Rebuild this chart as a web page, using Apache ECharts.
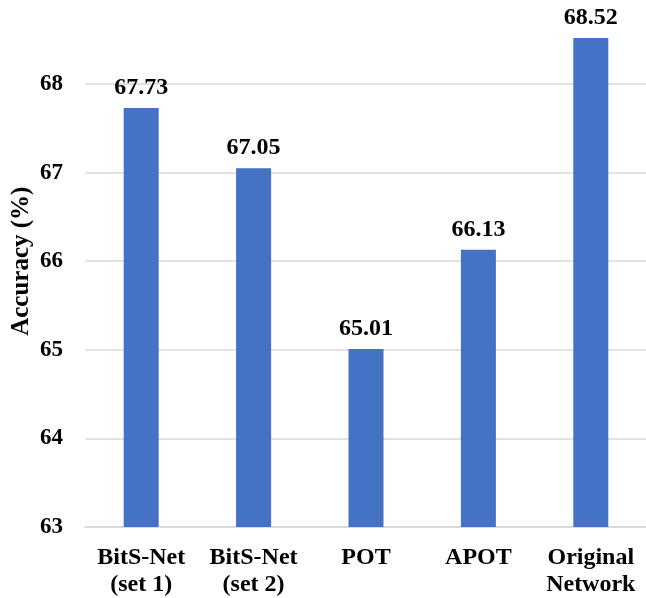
<!DOCTYPE html>
<html lang="en">
<head>
    <meta charset="UTF-8">
    <title>Accuracy</title>
    <script src="https://cdn.jsdelivr.net/npm/echarts@6/dist/echarts.min.js"></script>
</head>
<body style="margin:0">
    <div id="main" style="width: 646px;height:598px;"></div>
    <script type="text/javascript">
        // data
        var categories = ['BitS-Net\n(set 1)', 'BitS-Net\n(set 2)', 'POT', 'APOT', 'Original\nNetwork'];
        var accuracy = [67.73, 67.05, 65.01, 66.13, 68.52];

        var font = 'Liberation Serif, Times New Roman, serif';
        var myChart = echarts.init(document.getElementById('main'));

        var option = {
            animation: false,
            grid: { left: 85, right: -1, top: -4.6, bottom: 71, outerBoundsMode: 'none' },
            xAxis: {
                type: 'category',
                data: categories,
                axisTick: { show: false },
                axisLine: { lineStyle: { color: '#d9d9d9', width: 1.5 } },
                axisLabel: {
                    interval: 0,
                    margin: 17,
                    color: '#000',
                    fontFamily: font,
                    fontWeight: 'bold',
                    fontSize: 24,
                    lineHeight: 27
                }
            },
            yAxis: {
                type: 'value',
                min: 63,
                max: 69,
                interval: 1,
                name: 'Accuracy (%)',
                nameLocation: 'middle',
                nameGap: 51,
                nameMoveOverlap: false,
                nameTextStyle: {
                    color: '#000',
                    fontFamily: font,
                    fontWeight: 'bold',
                    fontSize: 25
                },
                axisLabel: {
                    margin: 22,
                    showMaxLabel: false,
                    color: '#000',
                    fontFamily: font,
                    fontWeight: 'bold',
                    fontSize: 23
                },
                splitLine: { lineStyle: { color: '#d9d9d9', width: 1.5 } }
            },
            series: [{
                type: 'bar',
                data: accuracy,
                barWidth: 35,
                itemStyle: { color: '#4472c4' },
                label: {
                    show: true,
                    position: 'top',
                    distance: 8,
                    color: '#000',
                    fontFamily: font,
                    fontWeight: 'bold',
                    fontSize: 24,
                    formatter: function (p) { return p.value.toFixed(2); }
                }
            }]
        };

        myChart.setOption(option);
    </script>
</body>
</html>
